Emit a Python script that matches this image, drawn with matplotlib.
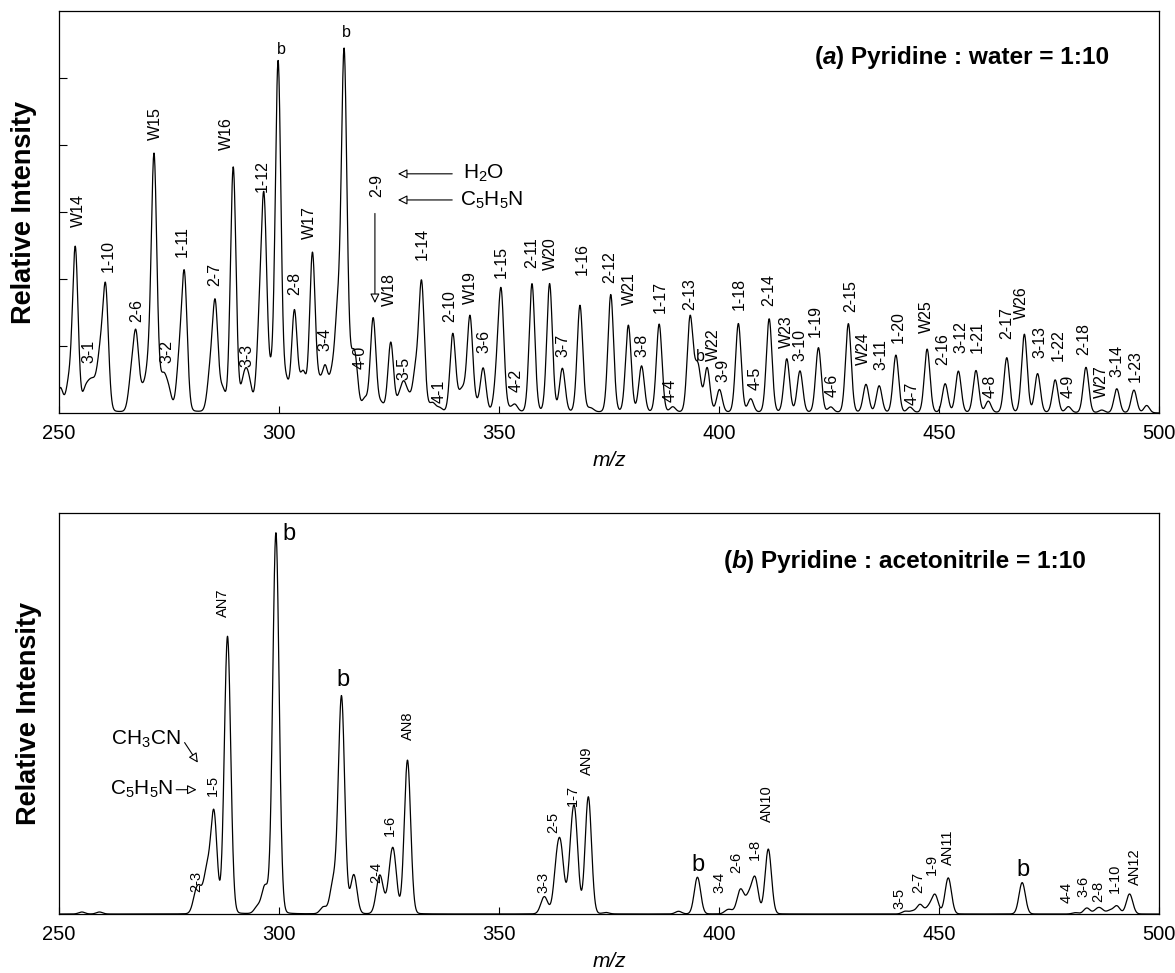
import numpy as np
import matplotlib
matplotlib.use("Agg")
import matplotlib.pyplot as plt
from matplotlib import font_manager

# condensed face if installed, otherwise plain Liberation Sans
try:
    font_manager.findfont(font_manager.FontProperties(family='Liberation Sans Narrow'),
                          fallback_to_default=False)
    NARROW = True
except Exception:
    NARROW = False

plt.rcParams['font.family'] = ['Liberation Sans Narrow', 'Liberation Sans', 'DejaVu Sans'] if NARROW \
    else ['Liberation Sans', 'DejaVu Sans']
plt.rcParams['mathtext.fontset'] = 'custom'
plt.rcParams['mathtext.rm'] = 'Liberation Sans'
plt.rcParams['mathtext.it'] = 'Liberation Sans:italic'

# ---- panel (a): pyridine : water = 1:10 ----  peak centres (m/z) and heights
a_mz = [250.3, 252.2, 253.7, 255.9, 256.8, 257.6, 258.5, 259.4, 260.6,
        266.4, 267.5, 269.0, 270.2, 271.6, 273.2, 274.0, 275.0, 277.3, 278.5,
        284.3, 285.5, 287.2, 289.6, 291.8, 292.6, 293.4, 295.5, 296.6, 298.2, 299.8,
        301.6, 303.5, 305.0, 305.7, 307.6, 309.2, 310.5, 312.0, 313.3, 314.8,
        316.3, 317.3, 319.5, 321.4, 323.2, 325.4, 327.4, 328.4, 329.5, 331.0, 332.4,
        334.3, 335.1, 336.5, 339.5, 341.2, 342.0, 343.4, 344.9, 346.4, 349.5, 350.5,
        352.3, 353.6, 357.5, 361.5, 364.4, 368.4, 370.5, 371.2, 375.4, 379.4, 382.4,
        386.4, 389.5, 393.4, 394.4, 395.3, 397.3, 400.1, 404.4, 407.2, 411.4, 415.4,
        418.4, 422.6, 425.4, 429.4, 433.4, 436.4, 440.2, 443.4, 447.3, 451.4, 454.4,
        458.4, 461.2, 465.4, 469.4, 472.4, 476.4, 479.4, 483.4, 487.0, 490.4, 494.3,
        497.2]
a_h = [0.36, 0.4, 2.45, 0.26, 0.24, 0.28, 0.24, 0.7, 1.8,
       0.45, 1.1, 0.25, 0.5, 3.8, 0.26, 0.36, 0.26, 0.65, 2.0,
       0.5, 1.58, 0.3, 3.65, 0.3, 0.38, 0.26, 1.0, 3.0, 0.4, 5.2,
       0.4, 1.48, 0.25, 0.4, 2.35, 0.35, 0.6, 0.45, 1.3, 5.3,
       0.45, 0.72, 0.18, 1.4, 0.12, 1.04, 0.2, 0.36, 0.18, 0.55, 1.92,
       0.06, 0.1, 0.06, 1.17, 0.2, 0.2, 1.42, 0.08, 0.65, 0.45, 1.72,
       0.04, 0.11, 1.92, 1.92, 0.65, 1.6, 0.04, 0.03, 1.76, 1.3, 0.69,
       1.32, 0.08, 1.36, 0.25, 0.6, 0.66, 0.34, 1.33, 0.2, 1.4, 0.8,
       0.62, 0.97, 0.08, 1.33, 0.42, 0.4, 0.86, 0.08, 0.95, 0.43, 0.62,
       0.63, 0.17, 0.82, 1.17, 0.58, 0.49, 0.09, 0.68, 0.04, 0.36, 0.34,
       0.11]

a_lab = ['W14', '3-1', '1-10', '2-6', 'W15', '3-2', '1-11', '2-7', 'W16', '3-3',
         '1-12', '2-8', 'W17', '3-4', '4-0', '2-9', 'W18', '3-5', '1-14', '4-1',
         '2-10', 'W19', '3-6', '1-15', '4-2', '2-11', 'W20', '3-7', '1-16', '2-12',
         'W21', '3-8', '1-17', '4-4', '2-13', 'W22', '3-9', '1-18', '4-5', '2-14',
         'W23', '3-10', '1-19', '4-6', '2-15', 'W24', '3-11', '1-20', '4-7', 'W25',
         '2-16', '3-12', '1-21', '4-8', '2-17', 'W26', '3-13', '1-22', '4-9', '2-18',
         'W27', '3-14', '1-23']
a_lab_x = [254.5, 256.9, 261.2, 267.7, 272.0, 274.5, 278.1, 285.5, 288.1, 292.7,
           296.3, 303.6, 307.0, 310.5, 318.4, 322.2, 325.1, 328.4, 332.6, 336.4,
           338.9, 343.4, 346.6, 350.6, 354.0, 357.4, 361.7, 364.5, 368.9, 375.2,
           379.6, 382.4, 386.6, 388.9, 393.3, 398.7, 401.0, 404.6, 408.2, 411.2,
           415.4, 418.3, 421.8, 425.8, 429.9, 432.9, 436.7, 440.8, 443.8, 447.2,
           450.8, 455.0, 458.7, 461.6, 465.4, 468.8, 473.0, 477.0, 479.4, 482.8,
           487.0, 490.4, 494.5]
a_lab_y = [2.78, 0.75, 2.11, 1.36, 4.07, 0.75, 2.33, 1.89, 3.93, 0.69,
           3.3, 1.76, 2.6, 0.92, 0.65, 3.23, 1.59, 0.5, 2.28, 0.15,
           1.36, 1.62, 0.89, 2.01, 0.32, 2.16, 2.13, 0.84, 2.06, 1.94,
           1.61, 0.84, 1.49, 0.17, 1.54, 0.77, 0.47, 1.54, 0.34, 1.59,
           0.97, 0.77, 1.14, 0.24, 1.51, 0.72, 0.64, 1.04, 0.12, 1.19,
           0.72, 0.89, 0.89, 0.22, 1.11, 1.41, 0.82, 0.77, 0.22, 0.87,
           0.22, 0.54, 0.47]
a_b_x = [300.6, 315.4, 395.7]
a_b_y = [5.43, 5.68, 0.84]

# ---- panel (b): pyridine : acetonitrile = 1:10 ----
b_mz = [255.2, 259.2, 281.1, 282.0, 283.6, 285.2, 288.3, 295.1, 296.8, 299.3,
        310.1, 312.3, 314.2, 317.0, 322.6, 323.2, 325.3, 326.1, 329.2,
        360.0, 360.6, 363.1, 364.1, 366.4, 367.3, 370.3, 374.3,
        390.8, 395.1, 401.8, 402.6, 404.6, 405.2, 406.8, 408.2, 411.2,
        442.3, 444.0, 445.7, 447.7, 449.1, 452.1, 468.9,
        481.0, 483.6, 485.9, 486.8, 488.8, 490.4, 493.3]
b_h = [0.03, 0.03, 0.25, 0.26, 0.6, 1.5, 4.15, 0.1, 0.4, 5.7,
       0.1, 0.45, 3.25, 0.58, 0.3, 0.33, 0.42, 0.72, 2.3,
       0.14, 0.14, 0.62, 0.82, 0.72, 1.22, 1.75, 0.02,
       0.04, 0.55, 0.04, 0.04, 0.2, 0.2, 0.25, 0.52, 0.97,
       0.04, 0.04, 0.14, 0.1, 0.28, 0.54, 0.47,
       0.02, 0.09, 0.06, 0.06, 0.05, 0.12, 0.3]

b_lab = ['2-3', '1-5', 'AN7', '2-4', '1-6', 'AN8', '3-3', '2-5', '1-7', 'AN9',
         '3-4', '2-6', '1-8', 'AN10', '3-5', '2-7', '1-9', 'AN11',
         '4-4', '3-6', '2-8', '1-10', 'AN12']
b_lab_x = [281.1, 284.9, 287.2, 322.0, 325.2, 329.4, 360.1, 362.3, 366.7, 369.9,
           400.2, 403.9, 408.2, 411.0, 441.1, 445.3, 448.3, 452.1,
           479.0, 482.8, 486.2, 490.0, 494.5]
b_lab_y = [0.33, 1.76, 4.45, 0.46, 1.16, 2.6, 0.31, 1.21, 1.61, 2.08,
           0.31, 0.61, 0.81, 1.38, 0.08, 0.31, 0.58, 0.73,
           0.16, 0.26, 0.18, 0.31, 0.43]
b_b_x = [302.3, 314.5, 395.3, 469.2]
b_b_y = [5.69, 3.5, 0.73, 0.66]

xticks = [250, 300, 350, 400, 450, 500]


def spectrum(x, centres, heights, fwhm, eta):
    y = np.zeros_like(x)
    for c, h in zip(centres, heights):
        d = (x - c) / (fwhm / 2)
        y += h * ((1 - eta) * np.exp(-np.log(2) * d ** 2) + eta / (1 + d ** 2))
    return y


mz = np.arange(250, 500.001, 0.05)

tick_fs = 17 if NARROW else 14.5
lab_fs = 13 if NARROW else 11.5
lab_fs_b = 12 if NARROW else 10.5

fig = plt.figure(figsize=(11.75, 9.73), dpi=100)
ax1 = fig.add_axes([0.0502, 0.5755, 0.9362, 0.4132])
ax2 = fig.add_axes([0.0502, 0.0606, 0.9362, 0.4122])

for ax in (ax1, ax2):
    ax.set_xlim(250, 500)
    ax.set_ylim(0, 6)
    ax.set_xticks(xticks)
    ax.set_xticklabels([str(t) for t in xticks], fontsize=tick_fs)
    ax.tick_params(axis='x', direction='in', length=5, width=0.8, pad=8)
    ax.set_xlabel('m/z', style='italic', fontsize=15, labelpad=6)
    ax.set_ylabel('Relative Intensity', family=['Liberation Sans'], fontweight='bold',
                  fontsize=19.5, labelpad=12)
    for s in ax.spines.values():
        s.set_linewidth(0.9)

ax1.set_yticks([1, 2, 3, 4, 5])
ax1.set_yticklabels([])
ax1.tick_params(axis='y', direction='in', length=6, width=0.8)
ax2.set_yticks([])

ax1.plot(mz, spectrum(mz, a_mz, a_h, 1.5, 0.08), color='black', lw=0.9)
ax2.plot(mz, spectrum(mz, b_mz, b_h, 1.7, 0.03), color='black', lw=0.9)

for t, x, y in zip(a_lab, a_lab_x, a_lab_y):
    ax1.text(x, y, t, rotation=90, ha='center', va='bottom', fontsize=lab_fs)
for x, y in zip(a_b_x, a_b_y):
    ax1.text(x, y, 'b', ha='center', va='center', fontsize=lab_fs)

for t, x, y in zip(b_lab, b_lab_x, b_lab_y):
    ax2.text(x, y, t, rotation=90, ha='center', va='bottom', fontsize=lab_fs_b)
for x, y in zip(b_b_x, b_b_y):
    ax2.text(x, y, 'b', ha='center', va='center', fontsize=17, family=['Liberation Sans'])


# panel titles: "(a) Pyridine : water = 1:10" with italic letter
def panel_title(ax, x, y, letter, rest):
    kw = dict(fontsize=17.6, fontweight='bold', family=['Liberation Sans'], va='bottom')
    t1 = ax.text(x, y, '(', transform=ax.transAxes, ha='left', **kw)
    t2 = ax.annotate(letter, xy=(1, 0), xycoords=t1, style='italic', ha='left', **kw)
    ax.annotate(') ' + rest, xy=(1, 0), xycoords=t2, ha='left', **kw)


panel_title(ax1, 0.687, 0.855, 'a', 'Pyridine : water = 1:10')
panel_title(ax2, 0.604, 0.850, 'b', 'Pyridine : acetonitrile = 1:10')

arrow = dict(arrowstyle='-|>', fc='white', ec='black', lw=0.8, mutation_scale=14)
# (a) solvent arrows and 2-9 arrow
ax1.annotate('', xy=(326.4, 3.57), xytext=(340.0, 3.57), arrowprops=arrow)
ax1.annotate('', xy=(326.4, 3.18), xytext=(340.0, 3.18), arrowprops=arrow)
ax1.text(341.8, 3.57, r'H$_2$O', ha='left', va='center', fontsize=15, family=['Liberation Sans'])
ax1.text(341.2, 3.18, r'C$_5$H$_5$N', ha='left', va='center', fontsize=15, family=['Liberation Sans'])
ax1.annotate('', xy=(321.8, 1.6), xytext=(321.8, 3.02), arrowprops=arrow)

# (b) solvent arrows
ax2.annotate('', xy=(281.9, 2.23), xytext=(278.2, 2.6), arrowprops=arrow)
ax2.annotate('', xy=(281.9, 1.86), xytext=(276.0, 1.86), arrowprops=arrow)
ax2.text(277.6, 2.62, r'CH$_3$CN', ha='right', va='center', fontsize=15, family=['Liberation Sans'])
ax2.text(276.0, 1.86, r'C$_5$H$_5$N', ha='right', va='center', fontsize=15, family=['Liberation Sans'])

fig.savefig('out.png', dpi=100)
